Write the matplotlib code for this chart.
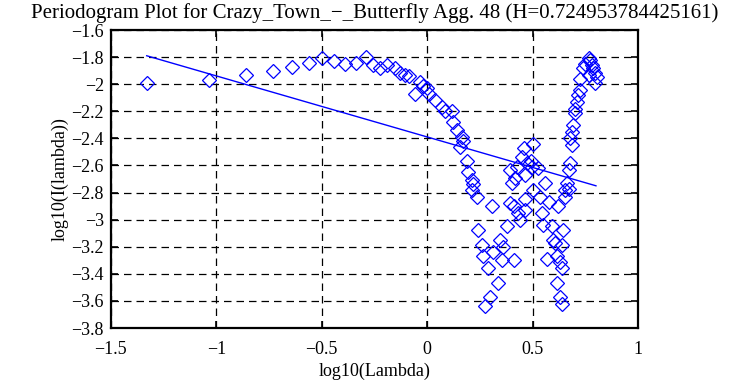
import matplotlib.pyplot as plt

# periodogram points
log_lambda = [-1.33, -1.035, -0.86, -0.73, -0.64, -0.56, -0.50, -0.44, -0.39, -0.34,
              -0.29, -0.256, -0.224, -0.19, -0.153, -0.129, -0.105, -0.085, -0.058, -0.034,
              -0.02, -0.002, 0.01, 0.037, 0.069, 0.084, 0.116, 0.124, 0.14, 0.156,
              0.164, 0.171, 0.188, 0.195, 0.211, 0.217, 0.211, 0.235, 0.243, 0.258,
              0.266, 0.274, 0.29, 0.298, 0.306, 0.313, 0.337, 0.345, 0.353, 0.36,
              0.377, 0.393, 0.393, 0.40, 0.41, 0.41, 0.416, 0.425, 0.432, 0.44,
              0.45, 0.46, 0.464, 0.464, 0.464, 0.472, 0.49, 0.495, 0.50, 0.503,
              0.526, 0.535, 0.543, 0.551, 0.559, 0.567, 0.575, 0.59, 0.598, 0.606,
              0.614, 0.614, 0.622, 0.63, 0.63, 0.638, 0.638, 0.638, 0.645, 0.654,
              0.654, 0.662, 0.67, 0.67, 0.677, 0.677, 0.685, 0.685, 0.693, 0.70,
              0.70, 0.709, 0.717, 0.725, 0.725, 0.74, 0.75, 0.765, 0.765, 0.772,
              0.78, 0.786, 0.796, 0.796, 0.805]
log_I = [-1.99, -1.97, -1.93, -1.90, -1.87, -1.84, -1.81, -1.83, -1.85, -1.84,
         -1.80, -1.86, -1.88, -1.86, -1.88, -1.92, -1.93, -1.94, -2.07, -1.98,
         -2.01, -2.03, -2.07, -2.12, -2.17, -2.20, -2.20, -2.28, -2.34, -2.46,
         -2.39, -2.42, -2.57, -2.65, -2.71, -2.74, -2.78, -2.83, -3.08, -3.19,
         -3.27, -3.64, -3.36, -3.57, -2.90, -3.24, -3.47, -3.15, -3.30, -3.20,
         -3.05, -2.63, -2.88, -2.73, -2.90, -3.30, -2.69, -2.61, -2.95, -3.00,
         -2.54, -2.47, -2.67, -2.85, -2.93, -2.58, -2.57, -2.61, -2.44, -2.78,
         -2.62, -2.83, -2.95, -3.04, -2.73, -3.29, -2.87, -3.05, -3.15, -3.17,
         -3.27, -3.47, -2.90, -3.31, -3.57, -3.19, -3.36, -3.62, -3.08, -2.78,
         -2.83, -2.73, -2.63, -2.77, -2.58, -2.40, -2.45, -2.35, -2.30, -2.21,
         -2.18, -2.13, -2.08, -2.04, -1.96, -1.88, -1.85, -1.81, -1.93, -1.82,
         -1.86, -1.88, -1.92, -1.99, -1.95]

# least squares fit line endpoints
fit_x = [-1.33, 0.80]
fit_y = [-1.79, -2.75]

H = 0.724953784425161

plt.rcParams['font.family'] = ['Liberation Serif', 'DejaVu Serif']

fig = plt.figure(figsize=(7.49, 3.85), dpi=100)
ax = fig.add_axes([0.148, 0.148, 0.704, 0.774])

ax.plot(log_lambda, log_I, 'D', mfc='none', mec='#0000ff', ms=7, mew=0.9)
ax.plot(fit_x, fit_y, '-', color='#0000ff', lw=1.0)

ax.set_xlim(-1.5, 1)
ax.set_ylim(-3.8, -1.6)
ax.set_xticks([-1.5, -1, -0.5, 0, 0.5, 1])
ax.set_xticklabels(['\u22121.5', '\u22121', '\u22120.5', '0', '0.5', '1'])
yt = [-3.8, -3.6, -3.4, -3.2, -3, -2.8, -2.6, -2.4, -2.2, -2, -1.8, -1.6]
ax.set_yticks(yt)
ax.set_yticklabels([('%g' % v).replace('-', '\u2212') for v in yt])

ax.grid(True, color='black', linestyle=(0, (6, 4)), linewidth=0.9)
ax.tick_params(direction='in', length=5, width=1.2, top=True, right=True,
               labelsize=13, pad=5)
ax.tick_params(axis='x', pad=9)
for s in ax.spines.values():
    s.set_linewidth(1.6)

ax.set_title('Periodogram Plot for Crazy_Town_\u2212_Butterfly Agg. 48 (H=%s)' % H,
             fontsize=15, pad=9)
ax.set_xlabel('log10(Lambda)', fontsize=13, labelpad=4)
ax.set_ylabel('log10(I(lambda))', fontsize=13, labelpad=2)

fig.savefig('out.png', dpi=100)
